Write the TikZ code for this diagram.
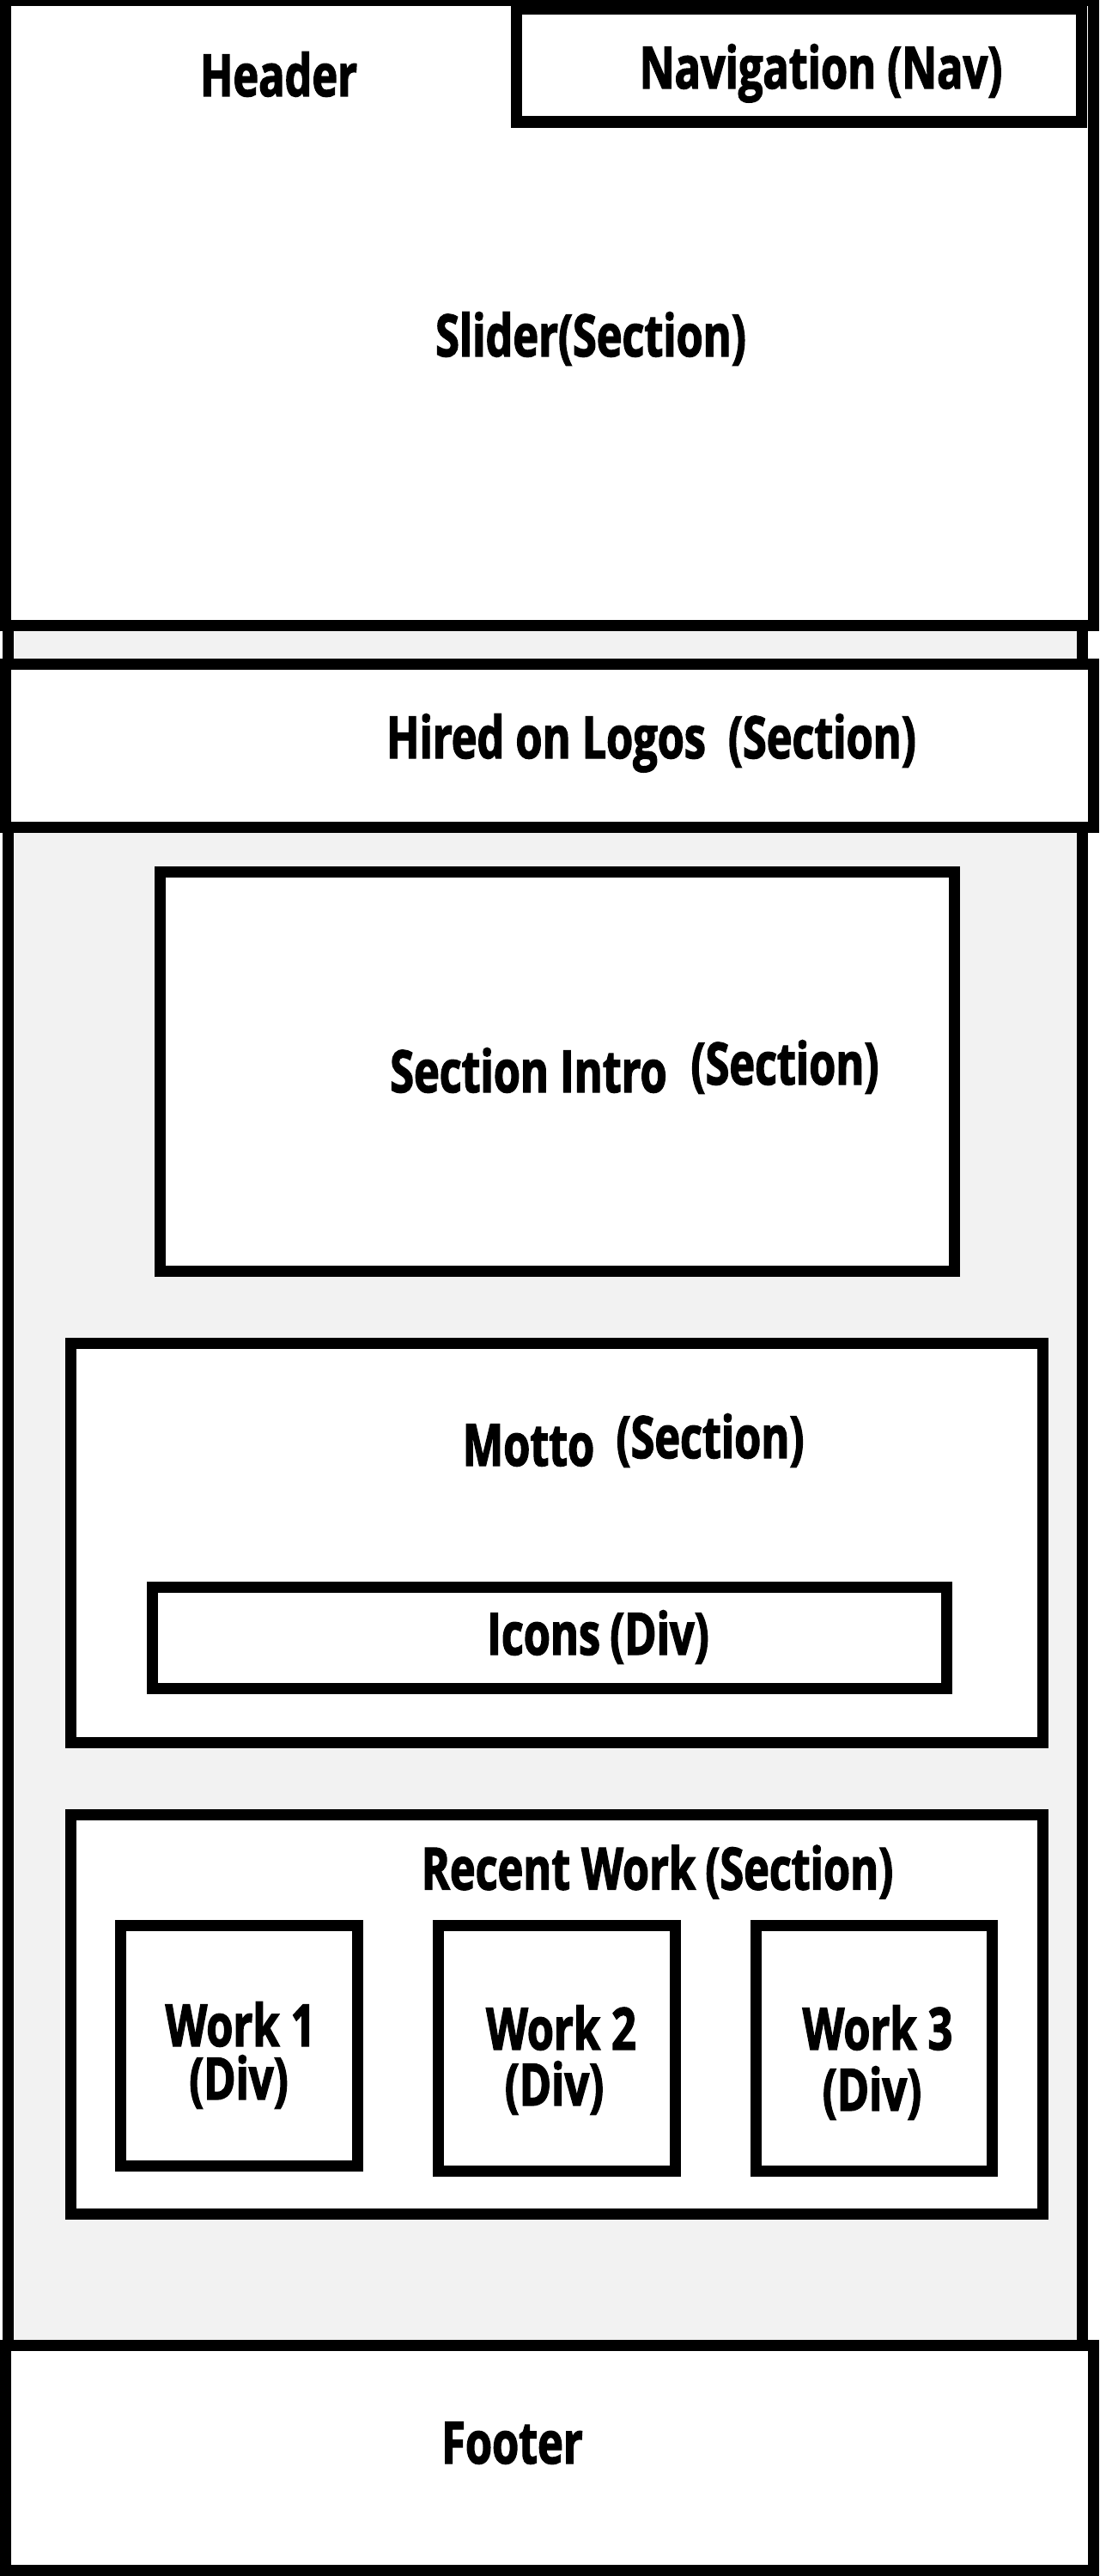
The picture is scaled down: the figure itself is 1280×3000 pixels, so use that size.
\documentclass[tikz,border=0pt]{standalone}
\usepackage{fontspec}
\setmainfont{Open Sans}[FakeStretch=0.74]
\newfontfamily\labelfont{Open Sans Bold}[FakeStretch=0.74, FakeBold=2]
\definecolor{pagegray}{HTML}{F2F2F2}
\tikzset{
  box/.style={draw=black, line width=13pt, fill=white, line join=miter},
  lbl/.style={anchor=base, inner sep=0pt, font=\fontsize{68}{80}\labelfont},
}
\begin{document}
\begin{tikzpicture}[x=1pt, y=-1pt]
\useasboundingbox (0,0) rectangle (1280,3000);
\fill[white] (0,0) rectangle (1280,3000);

% page body (grey band behind the sections)
\draw[line width=13pt, fill=pagegray] (9.5,728.5) rectangle (1260.5,2731.5);

% header with slider and navigation
\draw[box] (6.5,0.5) rectangle (1273.5,728.5);
\draw[box] (601,11) rectangle (1259.5,142);
\node[lbl] (header) at (324.5,112) {Header};
\node[lbl] (nav) at (956,103) {Navigation (Nav)};
\node[lbl] (slider) at (688,415) {Slider(Section)};

% hired on logos
\draw[box] (6.5,773.5) rectangle (1273.5,963);
\node[lbl] (logos) at (758.5,883) {Hired on Logos \ (Section)};

% section intro
\draw[box] (186.5,1015) rectangle (1111.5,1480.5);
\node[lbl] (intro) at (615.5,1272) {Section Intro};
\node[lbl] (introtag) at (914,1263) {(Section)};

% motto with icons
\draw[box] (82,1564.5) rectangle (1214.5,2029.5);
\node[lbl] (motto) at (615.5,1707) {Motto};
\node[lbl] (mottotag) at (827,1698) {(Section)};
\draw[box] (177.5,1848.5) rectangle (1102.5,1966.5);
\node[lbl] (icons) at (696.5,1927) {Icons\,(Div)};

% recent work
\draw[box] (82.5,2113.5) rectangle (1214.5,2578);
\node[lbl] (recent) at (765.5,2200.5) {Recent Work\,(Section)};
\draw[box] (140,2242.5) rectangle (416.5,2522.5);
\draw[box] (510.5,2242.5) rectangle (786.5,2528.5);
\draw[box] (880.5,2242.5) rectangle (1155.5,2528.5);
\node[lbl] (w1) at (280,2383) {Work 1};
\node[lbl] (w1tag) at (278,2445) {(Div)};
\node[lbl] (w2) at (653.5,2387) {Work 2};
\node[lbl] (w2tag) at (645.5,2452) {(Div)};
\node[lbl] (w3) at (1022,2387) {Work 3};
\node[lbl] (w3tag) at (1015.5,2458) {(Div)};

% footer
\draw[box] (6.5,2731.5) rectangle (1273.5,2993.5);
\node[lbl] (footer) at (596.5,2869) {Footer};
\end{tikzpicture}
\end{document}
